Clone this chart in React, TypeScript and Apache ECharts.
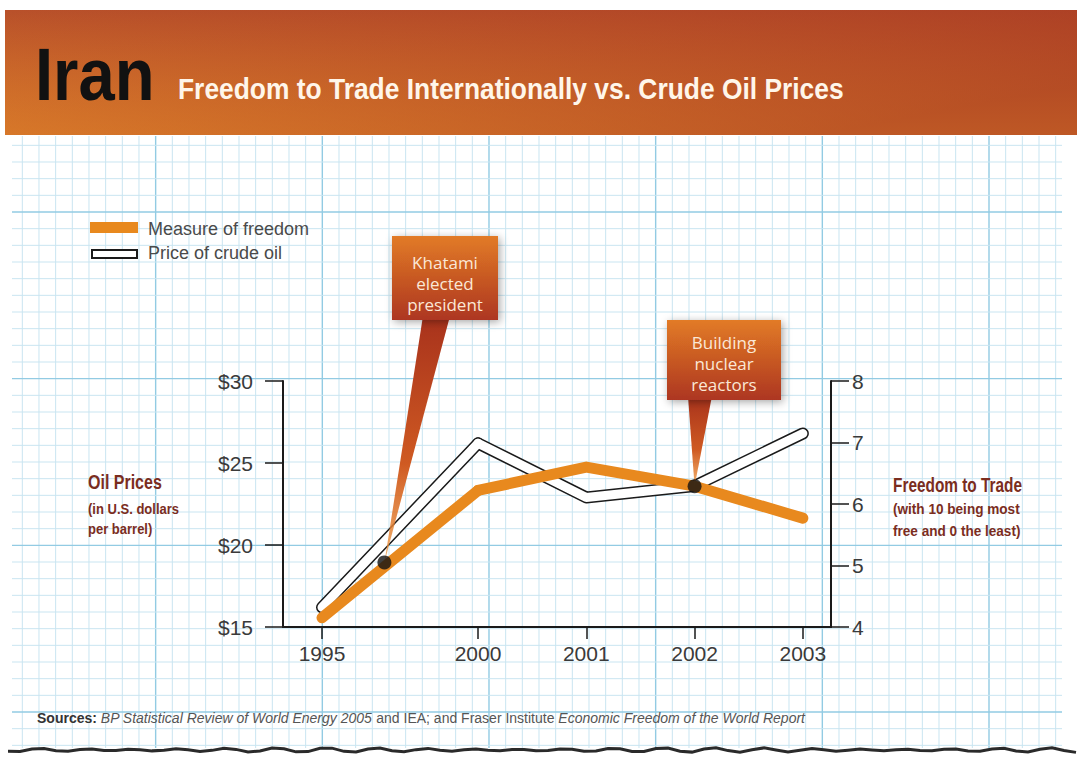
import React, { useEffect, useRef } from "react";
import * as echarts from "echarts";

// ---- Data ----
const years = [1995, 2000, 2001, 2002, 2003];
const oilPrice = [16.2, 26.2, 22.9, 23.6, 26.8]; // US$ per barrel
const freedomScore = [4.15, 6.22, 6.6, 6.29, 5.77]; // Freedom to Trade (0-10)
const yearTickLabels = [1995, 2000, 2001, 2002, 2003];
const priceTicks = { min: 15, max: 30, interval: 5 };
const freedomTicks = { min: 4, max: 8, interval: 1 };
const eventYears = [1997, 2002];
const eventFreedom = [5.05, 6.29];
const eventLabels = [["Khatami", "elected", "president"], ["Building", "nuclear", "reactors"]];
const legendLabels = ["Measure of freedom", "Price of crude oil"];
const BREAK_YEAR = 2000; // the x axis changes scale at 2000

const FONT = "'Liberation Sans', Arial, sans-serif";

export default function App() {
  const ref = useRef<HTMLDivElement>(null);

  useEffect(() => {
    const chart = echarts.init(ref.current!, null, { renderer: "svg" });

    const pts = (vals: number[]) => years.map((y, i) => [y, vals[i]]);
    const leftPart = (a: number[][]) => a.filter((p) => p[0] <= BREAK_YEAR);
    const rightPart = (a: number[][]) => a.filter((p) => p[0] >= BREAK_YEAR);
    const pricePts = pts(oilPrice);
    const freePts = pts(freedomScore);

    const line = (xi: number, yi: number, data: number[][], color: string, width: number, z: number) => ({
      type: "line",
      xAxisIndex: xi,
      yAxisIndex: yi,
      data,
      symbol: "none",
      silent: true,
      z,
      lineStyle: { color, width, cap: "round", join: "round" },
    });

    const events = eventYears.map((y, i) => ({ year: y, v: eventFreedom[i], g: y < BREAK_YEAR ? 0 : 1 }));

    const axisLabelStyle = { color: "#3a3a3a", fontSize: 21, fontFamily: FONT };

    const option: any = {
      animation: false,
      grid: [
        { left: 283, top: 381, width: 195, height: 246 },
        { left: 478, top: 381, width: 353, height: 246 },
      ],
      xAxis: [
        {
          gridIndex: 0, type: "value", min: 1993.75, max: BREAK_YEAR,
          axisLine: { onZero: false, lineStyle: { color: "#1a1a1a", width: 2 } },
          axisTick: { customValues: yearTickLabels.filter((y) => y < BREAK_YEAR), length: 12, lineStyle: { color: "#1a1a1a", width: 1.5 } },
          axisLabel: { ...axisLabelStyle, customValues: yearTickLabels.filter((y) => y < BREAK_YEAR), margin: 16, formatter: (v: number) => String(v) },
          splitLine: { show: false },
        },
        {
          gridIndex: 1, type: "value", min: BREAK_YEAR, max: 2003.26,
          axisLine: { onZero: false, lineStyle: { color: "#1a1a1a", width: 2 } },
          axisTick: { customValues: yearTickLabels.filter((y) => y >= BREAK_YEAR), length: 12, lineStyle: { color: "#1a1a1a", width: 1.5 } },
          axisLabel: { ...axisLabelStyle, customValues: yearTickLabels.filter((y) => y >= BREAK_YEAR), margin: 16, formatter: (v: number) => String(v) },
          splitLine: { show: false },
        },
      ],
      yAxis: [
        {
          gridIndex: 0, type: "value", position: "left", ...priceTicks,
          axisLine: { show: true, onZero: false, lineStyle: { color: "#1a1a1a", width: 2 } },
          axisTick: { show: true, length: 18, lineStyle: { color: "#1a1a1a", width: 1.5 } },
          axisLabel: { ...axisLabelStyle, margin: 30, formatter: (v: number) => "$" + v },
          splitLine: { show: false },
        },
        { gridIndex: 0, type: "value", ...freedomTicks, show: false, splitLine: { show: false } },
        { gridIndex: 1, type: "value", ...priceTicks, show: false, splitLine: { show: false } },
        {
          gridIndex: 1, type: "value", position: "right", ...freedomTicks,
          axisLine: { show: true, onZero: false, lineStyle: { color: "#1a1a1a", width: 2 } },
          axisTick: { show: true, length: 18, lineStyle: { color: "#1a1a1a", width: 1.5 } },
          axisLabel: { ...axisLabelStyle, margin: 21 },
          splitLine: { show: false },
        },
      ],
      series: [
        line(0, 0, leftPart(pricePts), "#1a1a1a", 12, 3),
        line(1, 2, rightPart(pricePts), "#1a1a1a", 12, 3),
        line(0, 0, leftPart(pricePts), "#ffffff", 9, 4),
        line(1, 2, rightPart(pricePts), "#ffffff", 9, 4),
        line(0, 1, leftPart(freePts), "#e8891e", 11, 5),
        line(1, 3, rightPart(freePts), "#e8891e", 11, 5),
        ...[0, 1].map((g) => ({
          type: "scatter",
          xAxisIndex: g,
          yAxisIndex: g === 0 ? 1 : 3,
          data: events.filter((e) => e.g === g).map((e) => [e.year, e.v]),
          symbolSize: 14,
          itemStyle: { color: "#111" },
          silent: true,
          z: 30,
        })),
      ],
    };
    chart.setOption(option);

    const els: any[] = [];
    // graph paper
    const step = 16.667;
    for (let k = -60; k <= 5; k++) {
      const x = 989 + k * step;
      if (x < 12 || x > 1062) continue;
      const major = k % 10 === 0;
      els.push({ type: "line", silent: true, z: -10, shape: { x1: x, y1: 136, x2: x, y2: 748 }, style: { stroke: major ? "#92cbe3" : "#c9e5f1", lineWidth: major ? 1.4 : 1 } });
    }
    for (let k = -4; k <= 32; k++) {
      const y = 212 + k * step;
      if (y < 136 || y > 748) continue;
      const major = k % 10 === 0;
      els.push({ type: "line", silent: true, z: -10, shape: { x1: 12, y1: y, x2: 1062, y2: y }, style: { stroke: major ? "#92cbe3" : "#c9e5f1", lineWidth: major ? 1.4 : 1 } });
    }
    // torn bottom edge
    const tornPts: number[][] = [];
    for (let x = 8; x <= 1077; x += 12) tornPts.push([x, 750 + 1.6 * Math.sin(x * 0.13) + 0.8 * Math.sin(x * 0.41)]);
    els.push({ type: "polyline", silent: true, z: -5, shape: { points: tornPts }, style: { stroke: "#2a2a2a", lineWidth: 3, fill: null } });

    // header
    els.push({
      type: "rect", silent: true, z: 1, shape: { x: 5, y: 10, width: 1072, height: 125 },
      style: { fill: new echarts.graphic.LinearGradient(0, 0, 0, 1, [{ offset: 0, color: "#b8502a" }, { offset: 1, color: "#e68d2c" }]) },
    });
    els.push({
      type: "rect", silent: true, z: 1, shape: { x: 5, y: 10, width: 1072, height: 125 },
      style: { fill: new echarts.graphic.LinearGradient(0, 0, 1, 0.6, [{ offset: 0, color: "rgba(170,50,30,0)" }, { offset: 1, color: "rgba(150,35,30,0.5)" }]) },
    });
    els.push({ type: "text", silent: true, z: 2, x: 35, y: 75, scaleX: 0.88, style: { text: "Iran", font: `bold 74px ${FONT}`, fill: "#111", verticalAlign: "middle" } });
    els.push({ type: "text", silent: true, z: 2, x: 178, y: 89, scaleX: 0.91, style: { text: "Freedom to Trade Internationally vs. Crude Oil Prices", font: `bold 29px ${FONT}`, fill: "#fff6ea", verticalAlign: "middle" } });

    // legend
    els.push({ type: "rect", silent: true, z: 2, shape: { x: 90, y: 222, width: 48, height: 11 }, style: { fill: "#e8891e" } });
    els.push({ type: "rect", silent: true, z: 2, shape: { x: 92, y: 250, width: 45, height: 8 }, style: { fill: "#fff", stroke: "#1a1a1a", lineWidth: 2 } });
    els.push({ type: "text", silent: true, z: 2, x: 148, y: 229, style: { text: legendLabels[0], font: `18px ${FONT}`, fill: "#4a4a4a", verticalAlign: "middle" } });
    els.push({ type: "text", silent: true, z: 2, x: 148, y: 253, style: { text: legendLabels[1], font: `18px ${FONT}`, fill: "#4a4a4a", verticalAlign: "middle" } });

    // axis titles
    const titleColor = "#7b2d1e";
    const addText = (x: number, y: number, t: string, font: string, sx: number) =>
      els.push({ type: "text", silent: true, z: 2, x, y, scaleX: sx, style: { text: t, font, fill: titleColor, verticalAlign: "middle" } });
    addText(88, 482, "Oil Prices", `bold 20px ${FONT}`, 0.8);
    addText(88, 509, "(in U.S. dollars", `bold 14px ${FONT}`, 0.93);
    addText(88, 529, "per barrel)", `bold 14px ${FONT}`, 0.93);
    addText(893, 485, "Freedom to Trade", `bold 20px ${FONT}`, 0.77);
    addText(893, 509, "(with 10 being most", `bold 14px ${FONT}`, 0.97);
    addText(893, 531, "free and 0 the least)", `bold 14px ${FONT}`, 0.97);

    // sources
    els.push({
      type: "text", silent: true, z: 2, x: 37, y: 718,
      style: {
        text: "{b|Sources:} {i|BP Statistical Review of World Energy 2005} and IEA; and Fraser Institute {i|Economic Freedom of the World Report}",
        font: `14px ${FONT}`, fill: "#555", verticalAlign: "middle",
        rich: {
          b: { fontWeight: "bold", fontSize: 14, fill: "#333", fontFamily: FONT },
          i: { fontStyle: "italic", fontSize: 14, fill: "#555", fontFamily: FONT },
        },
      },
    });

    // callouts
    const boxes = [
      { x: 392, y: 236, w: 106, h: 84, baseL: 423, baseR: 450, textY: 262 },
      { x: 667, y: 320, w: 114, h: 80, baseL: 688, baseR: 712, textY: 342 },
    ];
    events.forEach((e, i) => {
      const b = boxes[i];
      const tip = chart.convertToPixel({ xAxisIndex: e.g, yAxisIndex: e.g === 0 ? 1 : 3 } as any, [e.year, e.v]) as number[];
      els.push({
        type: "polygon", silent: true, z: 10,
        shape: { points: [[b.baseL, b.y + b.h - 4], [b.baseR, b.y + b.h - 4], [tip[0], tip[1]]] },
        style: {
          fill: new echarts.graphic.LinearGradient(0, 0, 0, 1, [
            { offset: 0, color: "#a8321c" },
            { offset: 0.6, color: "#cf5a22" },
            { offset: 1, color: "rgba(238,150,60,0.75)" },
          ]),
        },
      });
      els.push({
        type: "rect", silent: true, z: 11,
        shape: { x: b.x, y: b.y, width: b.w, height: b.h },
        style: {
          fill: new echarts.graphic.LinearGradient(0, 0, 0, 1, [
            { offset: 0, color: "#e27b26" },
            { offset: 1, color: "#ad3621" },
          ]),
          shadowBlur: 8, shadowColor: "rgba(0,0,0,0.35)", shadowOffsetX: 2, shadowOffsetY: 2,
        },
      });
      eventLabels[i].forEach((t, j) => {
        els.push({
          type: "text", silent: true, z: 12, x: b.x + b.w / 2, y: b.textY + j * 21,
          style: { text: t, font: `17px 'Open Sans', sans-serif`, fill: "#fbe8d6", align: "center", verticalAlign: "middle" },
        });
      });
    });

    chart.setOption({ graphic: { elements: els } });
    return () => chart.dispose();
  }, []);

  return <div ref={ref} style={{ position: "fixed", left: 0, top: 0, width: 1077, height: 764, background: "#ffffff" }} />;
}
